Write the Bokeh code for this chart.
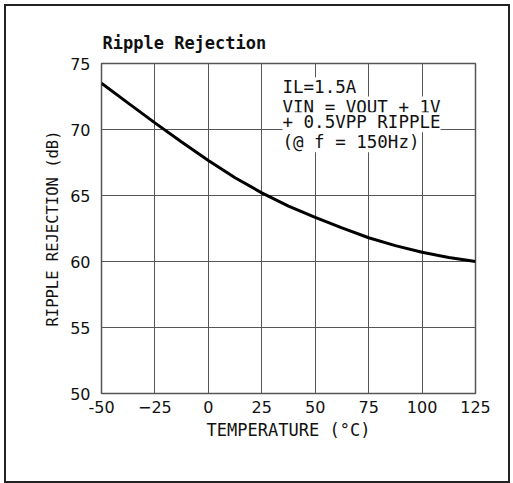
from bokeh.plotting import figure
from bokeh.models import Range1d, FixedTicker, Label, Title
from bokeh.embed import file_html
from bokeh.resources import INLINE

# ---- data ----
temp = [-50, -37.5, -25, -12.5, 0, 12.5, 25, 37.5, 50, 62.5, 75, 87.5, 100, 112.5, 125]
ripple_db = [73.5, 72.0, 70.5, 69.05, 67.65, 66.35, 65.2, 64.2, 63.35, 62.55, 61.8, 61.2, 60.7, 60.3, 60.0]

x_ticks = [-50, -25, 0, 25, 50, 75, 100, 125]
x_tick_labels = ["-50", "\u221225", "0", "25", "50", "75", "100", "125"]
y_ticks = [50, 55, 60, 65, 70, 75]
y_tick_labels = ["50", "55", "60", "65", "70", "75"]

title_text = "Ripple Rejection"
x_label = "TEMPERATURE (\u00b0C)"
y_label = "RIPPLE REJECTION (dB)"
note_lines = ["IL=1.5A", "VIN = VOUT + 1V", "+ 0.5VPP RIPPLE", "(@ f = 150Hz)"]

W, H = 502, 475
mono = "DejaVu Sans Mono"

p = figure(width=W, height=H, output_backend="svg", toolbar_location=None,
           x_range=Range1d(-50, 125), y_range=Range1d(50, 75),
           min_border_left=95, min_border_right=33, min_border_top=57, min_border_bottom=88)
p.margin = (6, 0, 0, 6)
p.styles = {"outline": "2px solid #222", "outline-offset": "0px"}

p.line(temp, ripple_db, line_color="black", line_width=3)

for ax, ticks, labels in ((p.xaxis[0], x_ticks, x_tick_labels), (p.yaxis[0], y_ticks, y_tick_labels)):
    ax.ticker = FixedTicker(ticks=ticks)
    ax.major_label_overrides = {t: l for t, l in zip(ticks, labels)}
    ax.axis_line_color = None
    ax.major_tick_line_color = None
    ax.minor_tick_line_color = None
    ax.major_tick_out = 0
    ax.major_tick_in = 0
    ax.major_label_text_font = "DejaVu Sans"
    ax.major_label_text_font_size = "16px"
    ax.major_label_text_color = "#111"

p.xaxis.major_label_standoff = 7
p.yaxis.major_label_standoff = 11

p.xgrid.ticker = FixedTicker(ticks=x_ticks)
p.ygrid.ticker = FixedTicker(ticks=y_ticks)
p.grid.grid_line_color = "#555"
p.grid.grid_line_width = 1
p.outline_line_color = "#555"
p.outline_line_width = 1.5
p.background_fill_color = "white"
p.border_fill_color = "white"

# title
p.title.text = title_text
p.title.align = "left"
p.title.offset = 1
p.title.standoff = 22
p.title.text_font = mono
p.title.text_font_style = "bold"
p.title.text_font_size = "17px"
p.title.text_color = "#111"

# axis labels as side titles (offset shifts them along the side)
p.add_layout(Title(text=x_label, align="center", offset=17, standoff=4,
                   text_font=mono, text_font_size="17px", text_font_style="normal",
                   text_color="#111"), "below")
p.add_layout(Title(text=y_label, align="center", offset=12, standoff=11,
                   text_font=mono, text_font_size="15.5px", text_font_style="normal",
                   text_color="#111"), "left")

# note box
note_y = [306.3, 287, 271.3, 251.3]
for t, yy in zip(note_lines, note_y):
    p.add_layout(Label(x=181, y=yy, x_units="screen", y_units="screen", text=t,
                       text_font=mono, text_font_size="17.5px",
                       text_baseline="alphabetic", text_align="left", text_color="#111",
                       background_fill_color="white"))

open("out.html", "w").write(file_html(p, INLINE))
